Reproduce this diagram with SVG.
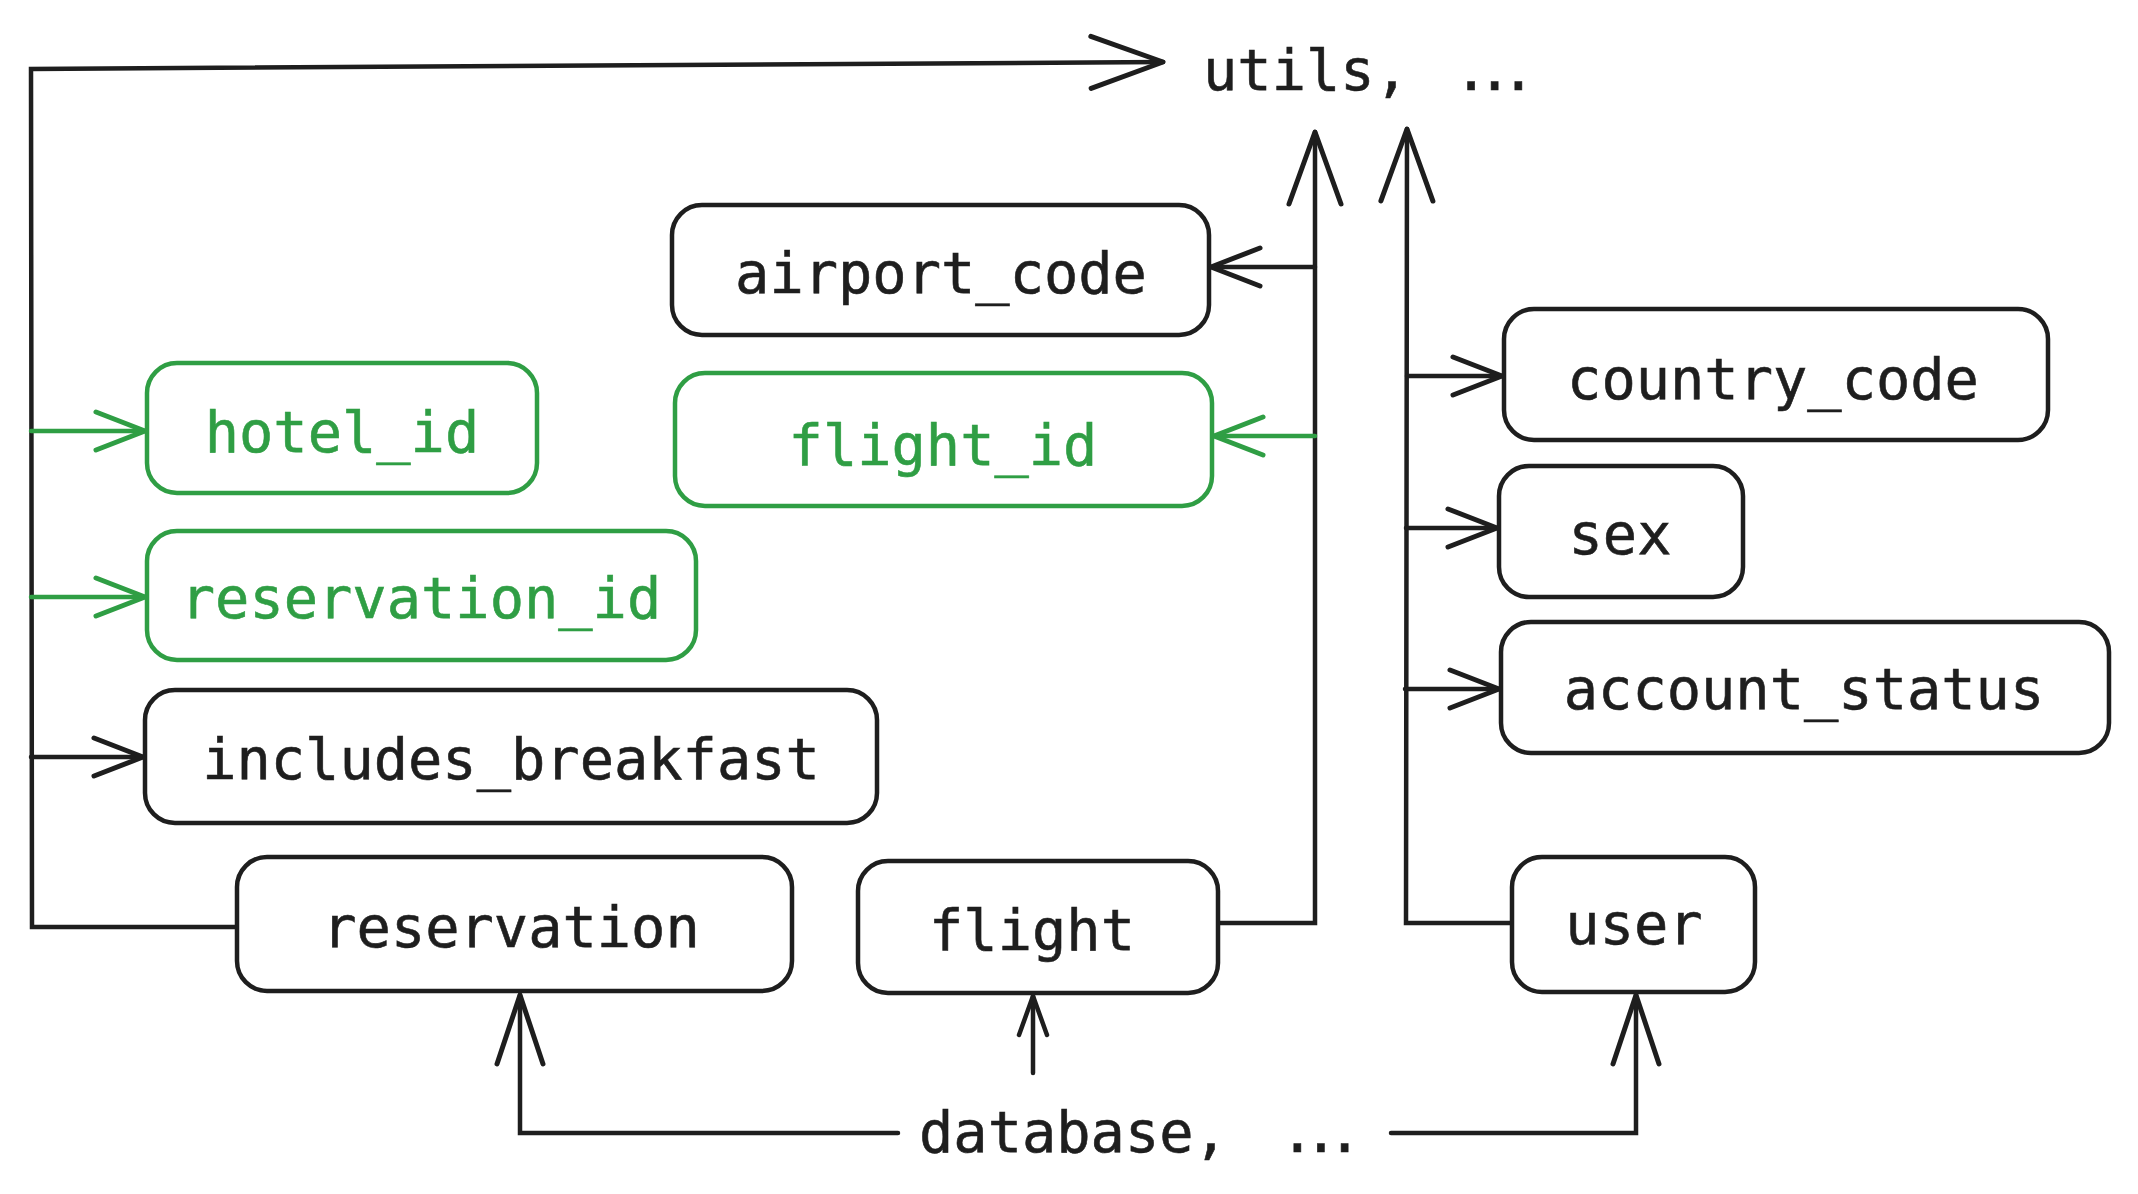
<svg xmlns="http://www.w3.org/2000/svg" width="2138" height="1194" viewBox="0 0 2138 1194">
<style>
.box{fill:#ffffff;stroke:#1e1e1e;stroke-width:4.5}
.box.g{stroke:#2f9e44}
.t{font-family:"DejaVu Sans Mono","Liberation Mono",monospace;font-size:57px;fill:#1e1e1e;stroke:#1e1e1e;stroke-width:0.6;text-anchor:middle}
.t.g{fill:#2f9e44;stroke:#2f9e44}
.free{font-family:"DejaVu Sans Mono","Liberation Mono",monospace;font-size:57px;fill:#1e1e1e;stroke:#1e1e1e;stroke-width:0.6}
.dots{letter-spacing:-10.7px}
.c{fill:none;stroke:#1e1e1e;stroke-width:4.5;stroke-linejoin:miter;stroke-linecap:round}
.c.g{stroke:#2f9e44}
</style>
<defs>
<marker id="aL" viewBox="0 0 80 60" refX="76" refY="30" markerWidth="80" markerHeight="60" markerUnits="userSpaceOnUse" orient="auto"><path d="M4,4 L76,30 L4,56" fill="none" stroke="#1e1e1e" stroke-width="5" stroke-linecap="round" stroke-linejoin="round"/></marker>
<marker id="aB" viewBox="0 0 76 54" refX="72" refY="27" markerWidth="76" markerHeight="54" markerUnits="userSpaceOnUse" orient="auto"><path d="M3,4 L72,27 L3,50" fill="none" stroke="#1e1e1e" stroke-width="5" stroke-linecap="round" stroke-linejoin="round"/></marker>
<marker id="aM" viewBox="0 0 56 44" refX="52" refY="22" markerWidth="56" markerHeight="44" markerUnits="userSpaceOnUse" orient="auto"><path d="M3,3 L52,22 L3,41" fill="none" stroke="#1e1e1e" stroke-width="5" stroke-linecap="round" stroke-linejoin="round"/></marker>
<marker id="aMg" viewBox="0 0 56 44" refX="52" refY="22" markerWidth="56" markerHeight="44" markerUnits="userSpaceOnUse" orient="auto"><path d="M3,3 L52,22 L3,41" fill="none" stroke="#2f9e44" stroke-width="5" stroke-linecap="round" stroke-linejoin="round"/></marker>
<marker id="aS" viewBox="0 0 46 34" refX="42" refY="17" markerWidth="46" markerHeight="34" markerUnits="userSpaceOnUse" orient="auto"><path d="M3,3 L42,17 L3,31" fill="none" stroke="#1e1e1e" stroke-width="4.5" stroke-linecap="round" stroke-linejoin="round"/></marker>
</defs>
<g id="connectors">
<path class="c" d="M237,927 L32,927 L31,69 L1163,62" marker-end="url(#aL)"/>
<path class="c g" d="M31,431 L145,431" marker-end="url(#aMg)"/>
<path class="c g" d="M31,597 L145,597" marker-end="url(#aMg)"/>
<path class="c" d="M31,757 L143,757" marker-end="url(#aM)"/>
<path class="c" d="M1218,923 L1315,923 L1315,132" marker-end="url(#aL)"/>
<path class="c" d="M1315,267 L1211,267" marker-end="url(#aM)"/>
<path class="c g" d="M1315,436 L1214,436" marker-end="url(#aMg)"/>
<path class="c" d="M1512,923 L1406,923 L1407,129" marker-end="url(#aL)"/>
<path class="c" d="M1407,376 L1502,376" marker-end="url(#aM)"/>
<path class="c" d="M1406,528 L1497,528" marker-end="url(#aM)"/>
<path class="c" d="M1405,689 L1499,689" marker-end="url(#aM)"/>
<path class="c" d="M898,1133 L520,1133 L520,995" marker-end="url(#aB)"/>
<path class="c" d="M1391,1133 L1636,1133 L1636,995" marker-end="url(#aB)"/>
<path class="c" d="M1033,1073 L1033,996" marker-end="url(#aS)"/>
</g>
<g id="utils"><text class="free" x="1203" y="90">utils, <tspan class="dots" dx="10.7">...</tspan></text></g>
<g id="database"><text class="free" x="919" y="1152">database, <tspan class="dots" dx="18">...</tspan></text></g>
<g id="airport_code"><rect class="box" x="672" y="205" width="537" height="130" rx="30"/><text class="t" x="941" y="293">airport_code</text></g>
<g id="hotel_id"><rect class="box g" x="147" y="363" width="390" height="130" rx="30"/><text class="t g" x="342" y="452">hotel_id</text></g>
<g id="flight_id"><rect class="box g" x="675" y="373" width="537" height="133" rx="30"/><text class="t g" x="943" y="465">flight_id</text></g>
<g id="reservation_id"><rect class="box g" x="147" y="531" width="549" height="129" rx="30"/><text class="t g" x="421" y="618">reservation_id</text></g>
<g id="includes_breakfast"><rect class="box" x="145" y="690" width="732" height="133" rx="30"/><text class="t" x="511" y="779">includes_breakfast</text></g>
<g id="reservation"><rect class="box" x="237" y="857" width="555" height="134" rx="30"/><text class="t" x="511" y="947">reservation</text></g>
<g id="flight"><rect class="box" x="858" y="861" width="360" height="132" rx="30"/><text class="t" x="1032" y="950">flight</text></g>
<g id="user"><rect class="box" x="1512" y="857" width="243" height="135" rx="30"/><text class="t" x="1634" y="944">user</text></g>
<g id="country_code"><rect class="box" x="1504" y="309" width="544" height="131" rx="30"/><text class="t" x="1773" y="399">country_code</text></g>
<g id="sex"><rect class="box" x="1499" y="466" width="244" height="131" rx="30"/><text class="t" x="1620" y="554">sex</text></g>
<g id="account_status"><rect class="box" x="1501" y="622" width="608" height="131" rx="30"/><text class="t" x="1804" y="709">account_status</text></g>
</svg>
